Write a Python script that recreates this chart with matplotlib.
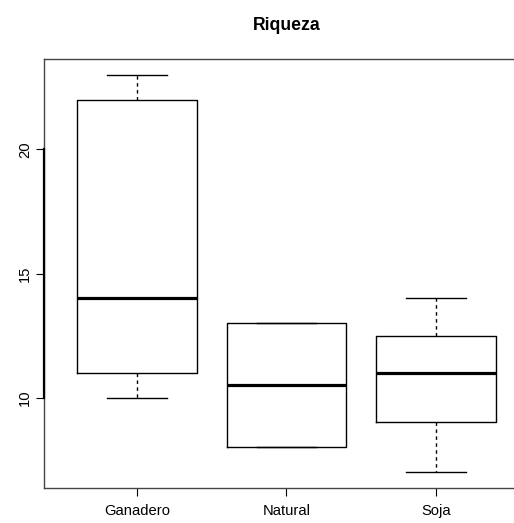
import matplotlib
matplotlib.use("Agg")
import matplotlib.pyplot as plt

categories = ["Ganadero", "Natural", "Soja"]
whislo = [10, 8, 7]
q1 = [11, 8, 9]
med = [14, 10.5, 11]
q3 = [22, 13, 12.5]
whishi = [23, 13, 14]
title = "Riqueza"
yticks = [10, 15, 20]

plt.rcParams['font.family'] = ['Liberation Sans', 'DejaVu Sans']

fig = plt.figure(figsize=(5.14, 5.23), dpi=100)
ax = fig.add_axes([44/514, 35/523, 485/514, 429/523])

stats = []
for i, c in enumerate(categories):
    stats.append(dict(label=c, whislo=whislo[i], q1=q1[i], med=med[i],
                      q3=q3[i], whishi=whishi[i], fliers=[]))

ax.bxp(stats, positions=[1, 2, 3], widths=0.8, showfliers=False,
       boxprops=dict(color='black', linewidth=1.0),
       medianprops=dict(color='black', linewidth=2.3, solid_capstyle='butt'),
       whiskerprops=dict(color='black', linewidth=1.0, linestyle=(0, (2.5, 2.5))),
       capprops=dict(color='black', linewidth=1.0),
       capwidths=0.4)

ax.set_xlim(0.38, 3.62)
ax.set_ylim(6.36, 23.64)

for s in ax.spines.values():
    s.set_color('#444444')
    s.set_linewidth(1.0)

ax.set_yticks(yticks)
ax.set_yticklabels([str(v) for v in yticks], rotation=90, va='center')
ax.set_xticks([1, 2, 3])
ax.set_xticklabels(categories)
ax.tick_params(axis='both', direction='out', length=5.5, width=0.8,
               colors='black', labelsize=10.6)
ax.tick_params(axis='y', pad=3)
ax.tick_params(axis='x', pad=6)

# R-style y axis line
ax.plot([0.38, 0.38], [10, 20], color='black', lw=1.6, clip_on=False, zorder=5)

ax.set_title(title, fontsize=12.7, fontweight='bold', pad=21)

fig.savefig("out.png", dpi=100)
